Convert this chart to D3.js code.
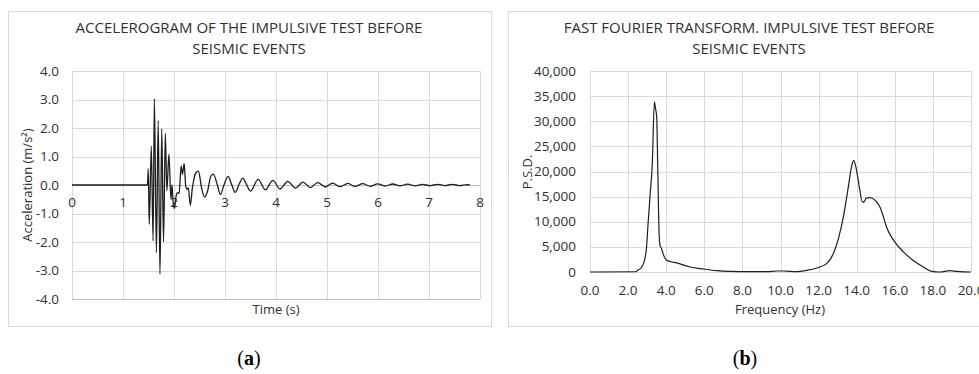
<!DOCTYPE html>
<meta charset="utf-8">
<script src="https://cdn.jsdelivr.net/npm/d3@7"></script>
<style>
  body {
    margin: 0;
    background: #fff;
  }

  text {
    font-family: "Open Sans", sans-serif;
    fill: #303030;
  }

  .grid line {
    stroke: #d9d9d9;
    stroke-width: 1px;
  }

  .tick-label {
    font-size: 13.5px;
  }

  .chart-title {
    font-size: 15px;
  }

  .axis-title {
    font-size: 13px;
  }

  .caption {
    font-family: "Liberation Serif", serif;
    font-size: 20px;
    fill: #000;
  }
</style>

<div id="wrapper"></div>

<script>
  // Accelerogram (a)
  const accTime = [0, 1.48, 1.495, 1.515, 1.555, 1.59, 1.615, 1.655, 1.69, 1.725, 1.76, 1.795, 1.83, 1.86,
    1.90, 1.94, 1.96, 1.98, 2.01, 2.04, 2.07, 2.10, 2.14, 2.165, 2.20, 2.23, 2.26, 2.28, 2.32, 2.36, 2.39,
    2.43, 2.48, 2.54, 2.60, 2.66, 2.72, 2.77, 2.85, 2.91, 2.98, 3.06, 3.13, 3.20, 3.27, 3.35, 3.42, 3.50,
    3.65, 3.79, 3.94, 4.08, 4.23, 4.38, 4.53, 4.67, 4.82, 4.97, 5.11, 5.26, 5.41, 5.55, 5.70, 5.85, 5.99,
    6.14, 6.29, 6.43, 6.58, 6.73, 6.87, 7.02, 7.17, 7.31, 7.46, 7.60, 7.75, 7.80];
  const accValue = [0, 0, 0.57, -1.38, 1.36, -1.96, 3.03, -2.37, 2.26, -3.13, 1.97, -2.0, 1.81, -0.2,
    1.08, -0.5, 0.0, -0.54, -0.82, -0.4, -0.27, -0.3, 0.67, 0.37, 0.75, -0.04, -0.15, -0.1, -0.71, -0.1, 0.2,
    0.43, 0.49, -0.1, -0.42, -0.2, 0.3, 0.38, 0.0, -0.33, 0.0, 0.3, 0.02, -0.26, 0.0, 0.24, 0.02, -0.21,
    0.2, -0.17, 0.16, -0.14, 0.13, -0.11, 0.10, -0.09, 0.08, -0.07, 0.065, -0.06, 0.055, -0.05, 0.045, -0.045, 0.04,
    -0.035, 0.035, -0.03, 0.03, -0.03, 0.025, -0.025, 0.025, -0.02, 0.02, -0.02, 0.015, 0];
  const accXTicks = [0, 1, 2, 3, 4, 5, 6, 7, 8];
  const accYTicks = [-4, -3, -2, -1, 0, 1, 2, 3, 4];

  // FFT (b)
  const fftFreq = [0, 2.4, 2.5, 2.7, 2.86, 2.97, 3.05, 3.15, 3.27, 3.38, 3.44, 3.50, 3.56, 3.63, 3.67, 3.75,
    3.85, 4.0, 4.2, 4.55, 5.25, 5.95, 6.65, 7.35, 8.4, 9.3, 9.8, 10.15, 10.85, 11.37, 11.9, 12.42, 12.77,
    13.04, 13.3, 13.56, 13.72, 13.84, 13.95, 14.05, 14.15, 14.3, 14.4, 14.5, 14.7, 14.96, 15.22, 15.4,
    15.57, 15.92, 16.45, 16.97, 17.5, 17.94, 18.37, 18.9, 19.25, 19.95, 20];
  const fftPsd = [0, 50, 340, 900, 2330, 5000, 9700, 15000, 21600, 33880, 32500, 31000, 20000, 7500, 5400, 4700,
    3500, 2400, 2100, 1800, 1000, 600, 270, 130, 70, 80, 200, 200, 70, 330, 800, 1660, 3650,
    6640, 10960, 16930, 20800, 22200, 21000, 19000, 16600, 13900, 14000, 14700, 14800, 14300, 12950, 11000,
    8900, 6400, 4000, 2300, 1000, 130, 0, 260, 130, 0, 0];
  const fftXTicks = [0, 2, 4, 6, 8, 10, 12, 14, 16, 18, 20];
  const fftYTicks = [0, 5000, 10000, 15000, 20000, 25000, 30000, 35000, 40000];

  // Excel style labels use a plain hyphen for negatives
  const fmt1 = d => d3.format(".1f")(d).replace("\u2212", "-");

  const svg = d3.select("#wrapper")
    .append("svg")
    .attr("width", 979)
    .attr("height", 374);

  // panel frames
  svg.append("rect")
    .attr("x", 8.5).attr("y", 11.5)
    .attr("width", 483).attr("height", 315)
    .attr("fill", "#fff").attr("stroke", "#d9d9d9");
  svg.append("rect")
    .attr("x", 508.5).attr("y", 11.5)
    .attr("width", 482).attr("height", 315)
    .attr("fill", "#fff").attr("stroke", "#d9d9d9");

  // ---------- (a) accelerogram ----------
  const xA = d3.scaleLinear().domain([0, 8]).range([72, 480]);
  const yA = d3.scaleLinear().domain([-4, 4]).range([299, 71]);

  const gA = svg.append("g");

  gA.append("g").attr("class", "grid")
    .selectAll("line")
    .data(accYTicks)
    .join("line")
    .attr("x1", xA(0)).attr("x2", xA(8))
    .attr("y1", d => Math.round(yA(d)) + 0.5).attr("y2", d => Math.round(yA(d)) + 0.5);
  gA.append("g").attr("class", "grid")
    .selectAll("line")
    .data(accXTicks)
    .join("line")
    .attr("x1", d => Math.round(xA(d)) + 0.5).attr("x2", d => Math.round(xA(d)) + 0.5)
    .attr("y1", yA(4)).attr("y2", yA(-4));

  // bottom edge and zero axis
  gA.append("line")
    .attr("x1", xA(0)).attr("x2", xA(8))
    .attr("y1", Math.round(yA(-4)) + 0.5).attr("y2", Math.round(yA(-4)) + 0.5)
    .attr("stroke", "#bfbfbf");
  gA.append("line")
    .attr("x1", xA(0)).attr("x2", xA(8))
    .attr("y1", Math.round(yA(0)) + 0.5).attr("y2", Math.round(yA(0)) + 0.5)
    .attr("stroke", "#bfbfbf");

  gA.append("g")
    .selectAll("text")
    .data(accYTicks)
    .join("text")
    .attr("class", "tick-label")
    .attr("text-anchor", "end")
    .attr("x", 59)
    .attr("y", d => yA(d) + 4.5)
    .text(fmt1);

  gA.append("g")
    .selectAll("text")
    .data(accXTicks)
    .join("text")
    .attr("class", "tick-label")
    .attr("text-anchor", "middle")
    .attr("x", d => xA(d))
    .attr("y", yA(0) + 22)
    .text(d => d);

  const accLine = d3.line()
    .x((d, i) => xA(accTime[i]))
    .y(d => yA(d))
    .curve(d3.curveMonotoneX);

  gA.append("path")
    .datum(accValue)
    .attr("fill", "none")
    .attr("stroke", "#1e1e1e")
    .attr("stroke-width", 1.3)
    .attr("d", accLine);

  gA.append("text")
    .attr("class", "chart-title")
    .attr("text-anchor", "middle")
    .attr("x", 249).attr("y", 33)
    .text("ACCELEROGRAM OF THE IMPULSIVE TEST BEFORE");
  gA.append("text")
    .attr("class", "chart-title")
    .attr("text-anchor", "middle")
    .attr("x", 249).attr("y", 54)
    .text("SEISMIC EVENTS");

  gA.append("text")
    .attr("class", "axis-title")
    .attr("text-anchor", "middle")
    .attr("x", 276).attr("y", 314)
    .text("Time (s)");
  gA.append("text")
    .attr("class", "axis-title")
    .attr("text-anchor", "middle")
    .attr("transform", "translate(32,185) rotate(-90)")
    .text("Acceleration (m/s²)");

  // ---------- (b) FFT ----------
  const xB = d3.scaleLinear().domain([0, 20]).range([590, 971]);
  const yB = d3.scaleLinear().domain([0, 40000]).range([272, 71]);

  const gB = svg.append("g");

  gB.append("g").attr("class", "grid")
    .selectAll("line")
    .data(fftYTicks)
    .join("line")
    .attr("x1", xB(0)).attr("x2", xB(20))
    .attr("y1", d => Math.round(yB(d)) + 0.5).attr("y2", d => Math.round(yB(d)) + 0.5);
  gB.append("g").attr("class", "grid")
    .selectAll("line")
    .data(fftXTicks)
    .join("line")
    .attr("x1", d => Math.round(xB(d)) + 0.5).attr("x2", d => Math.round(xB(d)) + 0.5)
    .attr("y1", yB(40000)).attr("y2", yB(0));

  gB.append("g")
    .selectAll("text")
    .data(fftYTicks)
    .join("text")
    .attr("class", "tick-label")
    .attr("text-anchor", "end")
    .attr("x", 576)
    .attr("y", d => yB(d) + 4.5)
    .text(d => d3.format(",")(d));

  gB.append("g")
    .selectAll("text")
    .data(fftXTicks)
    .join("text")
    .attr("class", "tick-label")
    .attr("text-anchor", "middle")
    .attr("x", d => xB(d))
    .attr("y", 295)
    .text(fmt1);

  const fftLine = d3.line()
    .x((d, i) => xB(fftFreq[i]))
    .y(d => yB(d))
    .curve(d3.curveMonotoneX);

  gB.append("path")
    .datum(fftPsd)
    .attr("fill", "none")
    .attr("stroke", "#1e1e1e")
    .attr("stroke-width", 1.2)
    .attr("d", fftLine);

  gB.append("text")
    .attr("class", "chart-title")
    .attr("text-anchor", "middle")
    .attr("x", 749).attr("y", 33)
    .text("FAST FOURIER TRANSFORM. IMPULSIVE TEST BEFORE");
  gB.append("text")
    .attr("class", "chart-title")
    .attr("text-anchor", "middle")
    .attr("x", 749).attr("y", 54)
    .text("SEISMIC EVENTS");

  gB.append("text")
    .attr("class", "axis-title")
    .attr("text-anchor", "middle")
    .attr("x", 780).attr("y", 314)
    .text("Frequency (Hz)");
  gB.append("text")
    .attr("class", "axis-title")
    .attr("text-anchor", "middle")
    .attr("transform", "translate(532,172) rotate(-90)")
    .text("P.S.D.");

  // captions
  const captions = svg.append("g");
  [["a", 249], ["b", 745]].forEach(([letter, cx]) => {
    const t = captions.append("text")
      .attr("class", "caption")
      .attr("text-anchor", "middle")
      .attr("x", cx).attr("y", 365);
    t.append("tspan").text("(");
    t.append("tspan").attr("font-weight", "bold").text(letter);
    t.append("tspan").text(")");
  });
</script>
